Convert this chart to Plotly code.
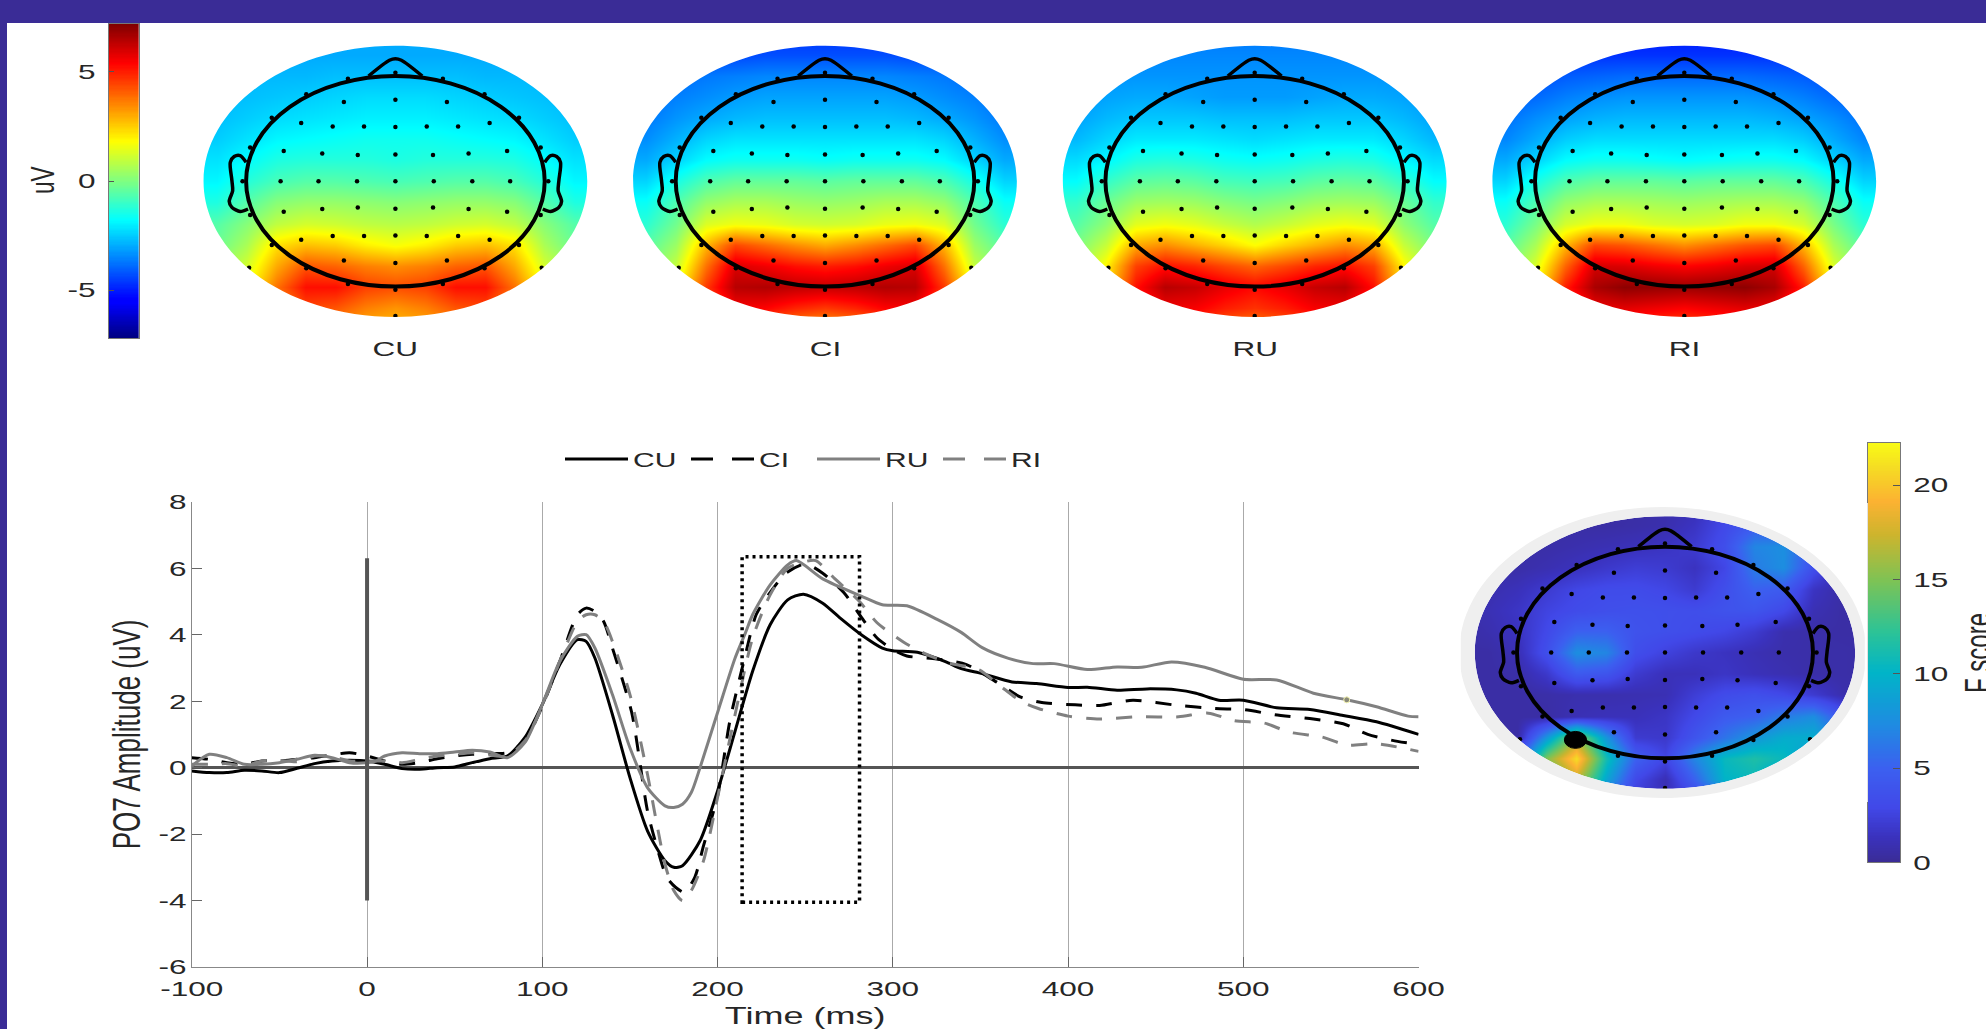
import numpy as np
import plotly.graph_objects as go

W, H = 1986, 1029

# ---------- ERP waveforms (time in ms, amplitude in uV) ----------
cu_t = [-100,-90,-80,-70,-60,-50,-40,-30,-20,-10,0,10,20,30,40,50,60,70,80,90,100,110,120,125,130,140,150,160,170,175,180,190,200,210,220,230,240,249,260,270,282,294,300,314,330,339,351,368,382,400,411,428,445,462,473,486,500,519,538,557,576,600]
cu_v = [-0.1,-0.15,-0.15,-0.08,-0.1,-0.15,-0.02,0.12,0.2,0.22,0.2,0.1,-0.03,-0.05,0,0.02,0.15,0.27,0.35,0.9,1.9,3.1,3.85,3.8,3.3,1.6,-0.3,-1.9,-2.8,-3.0,-2.95,-2.2,-0.7,1.1,2.9,4.3,5.05,5.22,4.95,4.5,4.0,3.6,3.52,3.47,3.19,2.98,2.83,2.58,2.53,2.41,2.42,2.33,2.37,2.34,2.24,2.03,2.03,1.8,1.75,1.57,1.38,1.0]

ci_t = [-100,-90,-80,-70,-60,-50,-40,-30,-20,-10,0,10,15,20,30,40,50,60,70,80,90,100,110,120,125,130,135,140,151,160,166,171,176,181,187,192,200,207,215,222,229,239,250,260,272,282,291,301,308,325,342,359,373,385,404,418,437,463,484,501,518,540,557,571,588,600]
ci_v = [0.3,0.25,0.15,0.1,0.2,0.2,0.25,0.3,0.38,0.45,0.35,0.2,0.15,0.1,0.15,0.27,0.35,0.4,0.42,0.45,0.8,1.85,3.2,4.6,4.8,4.7,4.4,3.6,1.66,-1.3,-2.5,-3.3,-3.6,-3.75,-3.3,-2.35,-0.85,1.4,3.2,4.6,5.2,5.85,6.13,5.85,5.27,4.53,3.9,3.52,3.36,3.27,3.1,2.58,2.12,1.96,1.89,1.87,2.03,1.87,1.78,1.74,1.59,1.46,1.32,1.0,0.79,0.7]

ru_t = [-100,-90,-80,-70,-60,-50,-40,-30,-20,-10,0,5,10,20,30,40,50,60,70,80,90,100,110,120,125,130,140,150,160,170,175,180,185,190,200,210,216,220,230,240,245,260,282,294,308,325,339,351,366,380,392,411,428,442,459,478,500,519,540,559,576,594,600]
ru_v = [0.05,0.4,0.3,0.1,0.1,0.15,0.25,0.37,0.3,0.15,0.15,0.2,0.35,0.45,0.42,0.42,0.47,0.52,0.47,0.3,0.75,1.9,3.2,3.95,4.0,3.6,2.2,0.6,-0.6,-1.15,-1.2,-1.1,-0.75,0.0,1.66,3.3,4.07,4.6,5.5,6.1,6.23,5.68,5.16,4.9,4.87,4.47,4.07,3.61,3.29,3.13,3.13,2.95,3.03,3.02,3.18,3.02,2.66,2.64,2.24,2.04,1.83,1.55,1.53]

ri_t = [-100,-90,-80,-70,-60,-50,-40,-30,-20,-10,0,10,20,30,40,50,60,70,80,90,100,110,120,125,130,135,140,150,160,165,170,175,180,185,192,200,210,220,230,240,250,256,267,281,291,306,318,332,349,361,373,383,400,418,440,463,480,495,512,526,545,559,576,600]
ri_v = [0.1,0.1,0.12,0.05,0.2,0.22,0.18,0.35,0.33,0.2,0.2,0.2,0.15,0.25,0.35,0.4,0.45,0.38,0.35,0.8,1.85,3.2,4.4,4.6,4.6,4.4,3.8,2.2,-0.2,-1.6,-2.9,-3.7,-4.0,-3.7,-2.8,-0.9,1.6,3.9,5.2,6.0,6.2,6.23,5.68,5.0,4.36,3.78,3.44,3.15,2.95,2.47,2.0,1.78,1.55,1.46,1.53,1.53,1.64,1.41,1.34,1.07,0.92,0.68,0.72,0.49]

x_ticks = [-100,0,100,200,300,400,500,600]
x_labels = ["-100","0","100","200","300","400","500","600"]
y_ticks = [-6,-4,-2,0,2,4,6,8]
y_labels = ["-6","-4","-2","0","2","4","6","8"]
window_ms = [214,281]
window_uv = [-4.05,6.35]
stim_uv = [-4,6.3]

# ---------- scalp maps: rows from +1.4 to -1.4, columns from -1.4 to +1.4 (head radius = 1) ----------
grid = [-1.4,-1.2,-1.0,-0.8,-0.6,-0.4,-0.2,0.0,0.2,0.4,0.6,0.8,1.0,1.2,1.4]
grid_rows = grid[::-1]

map_cu = [
[-3.0,-3.0,-3.0,-3.0,-3.0,-3.0,-3.0,-3.0,-3.0,-3.0,-3.0,-3.0,-3.0,-3.0,-3.0],
[-3.0,-3.0,-3.0,-3.0,-3.0,-3.0,-3.0,-3.0,-3.0,-3.0,-3.0,-3.0,-3.0,-3.0,-3.0],
[-2.9,-2.9,-2.8,-2.8,-2.8,-2.7,-2.7,-2.7,-2.7,-2.7,-2.8,-2.8,-2.8,-2.9,-2.9],
[-2.8,-2.8,-2.7,-2.6,-2.5,-2.4,-2.3,-2.3,-2.3,-2.4,-2.5,-2.6,-2.7,-2.8,-2.8],
[-2.7,-2.7,-2.5,-2.3,-2.2,-2.1,-2.0,-2.0,-2.0,-2.1,-2.2,-2.3,-2.5,-2.7,-2.7],
[-2.5,-2.5,-2.2,-1.9,-1.8,-1.7,-1.6,-1.6,-1.6,-1.7,-1.8,-1.9,-2.2,-2.5,-2.5],
[-2.2,-2.2,-1.8,-1.4,-1.3,-1.3,-1.3,-1.4,-1.3,-1.3,-1.3,-1.4,-1.8,-2.2,-2.2],
[-1.9,-1.9,-1.3,-0.8,-0.6,-0.6,-0.7,-0.8,-0.7,-0.6,-0.6,-0.8,-1.3,-1.9,-1.9],
[-1.4,-1.4,-0.6,0.1,0.3,0.3,0.2,0.1,0.2,0.3,0.3,0.1,-0.6,-1.4,-1.4],
[-0.6,-0.6,0.1,0.9,1.2,1.1,0.9,0.8,0.9,1.1,1.2,0.9,0.1,-0.6,-0.6],
[-0.3,-0.3,0.6,2.2,2.7,2.5,2.0,1.7,2.0,2.5,2.7,2.2,0.6,-0.3,-0.3],
[0.2,0.2,1.2,3.0,4.2,4.0,3.6,3.4,3.6,4.0,4.2,3.0,1.2,0.2,0.2],
[0.8,0.8,1.6,3.8,5.2,5.2,4.5,4.3,4.5,5.2,5.2,3.8,1.6,0.8,0.8],
[1.2,1.2,1.8,3.2,4.4,4.2,3.6,3.3,3.6,4.2,4.4,3.2,1.8,1.2,1.2],
[1.8,1.8,2.0,3.0,3.5,3.2,2.8,2.6,2.8,3.2,3.5,3.0,2.0,1.8,1.8],
]
map_ci = [
[-4.7,-4.7,-4.7,-4.7,-4.7,-4.7,-4.7,-4.7,-4.7,-4.7,-4.7,-4.7,-4.7,-4.7,-4.7],
[-4.4,-4.4,-4.4,-4.4,-4.4,-4.3,-4.3,-4.3,-4.3,-4.3,-4.4,-4.4,-4.4,-4.4,-4.4],
[-4.0,-4.0,-3.9,-3.7,-3.6,-3.5,-3.5,-3.5,-3.5,-3.5,-3.6,-3.7,-3.9,-4.0,-4.0],
[-3.9,-3.9,-3.6,-3.4,-3.2,-3.1,-3.1,-3.1,-3.1,-3.1,-3.2,-3.4,-3.6,-3.9,-3.9],
[-3.7,-3.7,-3.3,-3.0,-2.8,-2.7,-2.7,-2.7,-2.7,-2.7,-2.8,-3.0,-3.3,-3.7,-3.7],
[-3.4,-3.4,-2.9,-2.4,-2.2,-2.2,-2.2,-2.2,-2.2,-2.2,-2.2,-2.4,-2.9,-3.4,-3.4],
[-3.0,-3.0,-2.4,-1.8,-1.6,-1.6,-1.6,-1.7,-1.6,-1.6,-1.6,-1.8,-2.4,-3.0,-3.0],
[-2.4,-2.4,-1.5,-0.7,-0.4,-0.4,-0.4,-0.5,-0.4,-0.4,-0.4,-0.7,-1.5,-2.4,-2.4],
[-1.7,-1.7,-0.7,0.3,0.6,0.6,0.4,0.3,0.4,0.6,0.6,0.3,-0.7,-1.7,-1.7],
[-1.2,-1.2,-0.2,1.3,1.6,1.5,1.2,1.1,1.2,1.5,1.6,1.3,-0.2,-1.2,-1.2],
[-0.8,-0.6,0.4,2.8,4.4,3.9,3.4,3.0,3.4,3.9,4.4,2.8,0.4,-0.6,-0.8],
[-0.2,-0.2,1.0,3.8,5.9,5.6,5.2,5.0,5.2,5.6,5.9,3.8,1.0,-0.2,-0.2],
[0.6,0.6,1.6,4.6,6.4,6.5,6.3,6.2,6.3,6.5,6.4,4.6,1.6,0.6,0.6],
[1.5,1.5,2.0,4.0,5.5,5.4,4.9,4.6,4.9,5.4,5.5,4.0,2.0,1.5,1.5],
[2.0,2.0,2.4,3.5,4.0,3.6,3.2,2.8,3.2,3.6,4.0,3.5,2.4,2.0,2.0],
]
map_ru = [
[-3.7,-3.7,-3.7,-3.7,-3.7,-3.7,-3.7,-3.7,-3.7,-3.7,-3.7,-3.7,-3.7,-3.7,-3.7],
[-3.5,-3.5,-3.5,-3.5,-3.5,-3.5,-3.5,-3.5,-3.5,-3.5,-3.5,-3.5,-3.5,-3.5,-3.5],
[-3.4,-3.4,-3.3,-3.3,-3.3,-3.3,-3.3,-3.3,-3.3,-3.3,-3.3,-3.3,-3.3,-3.4,-3.4],
[-3.3,-3.3,-3.1,-3.0,-3.0,-3.1,-3.2,-3.2,-3.2,-3.1,-3.0,-3.0,-3.1,-3.3,-3.3],
[-3.1,-3.1,-2.8,-2.6,-2.6,-2.6,-2.7,-2.7,-2.7,-2.6,-2.6,-2.6,-2.8,-3.1,-3.1],
[-2.8,-2.8,-2.4,-2.1,-2.1,-2.1,-2.2,-2.3,-2.2,-2.1,-2.1,-2.1,-2.4,-2.8,-2.8],
[-2.3,-2.3,-1.9,-1.4,-1.3,-1.4,-1.6,-1.7,-1.6,-1.4,-1.3,-1.4,-1.9,-2.3,-2.3],
[-1.8,-1.8,-1.1,-0.5,-0.4,-0.5,-0.8,-0.9,-0.8,-0.5,-0.4,-0.5,-1.1,-1.8,-1.8],
[-1.1,-1.1,-0.3,0.4,0.5,0.4,0.1,-0.1,0.1,0.4,0.5,0.4,-0.3,-1.1,-1.1],
[-0.6,-0.6,0.2,1.4,1.6,1.4,1.0,0.7,1.0,1.4,1.6,1.4,0.2,-0.6,-0.6],
[-0.4,-0.1,1.0,3.0,3.4,2.9,2.4,1.8,2.4,2.9,3.4,3.0,1.0,-0.1,-0.4],
[0.2,0.3,1.9,4.5,5.2,4.9,4.4,4.0,4.4,4.9,5.2,4.5,1.9,0.3,0.2],
[0.8,0.8,2.2,5.2,6.4,6.2,5.7,5.3,5.7,6.2,6.4,5.2,2.2,0.8,0.8],
[1.5,1.5,2.5,4.6,5.6,5.5,5.0,4.7,5.0,5.5,5.6,4.6,2.5,1.5,1.5],
[2.0,2.0,2.8,4.0,4.6,4.4,3.8,3.3,3.8,4.4,4.6,4.0,2.8,2.0,2.0],
]
map_ri = [
[-5.1,-5.1,-5.1,-5.1,-5.1,-5.1,-5.1,-5.1,-5.1,-5.1,-5.1,-5.1,-5.1,-5.1,-5.1],
[-4.7,-4.7,-4.7,-4.7,-4.7,-4.7,-4.7,-4.7,-4.7,-4.7,-4.7,-4.7,-4.7,-4.7,-4.7],
[-4.4,-4.4,-4.3,-4.1,-4.0,-3.9,-3.9,-3.9,-3.9,-3.9,-4.0,-4.1,-4.3,-4.4,-4.4],
[-4.1,-4.1,-3.9,-3.6,-3.4,-3.3,-3.3,-3.3,-3.3,-3.3,-3.4,-3.6,-3.9,-4.1,-4.1],
[-3.8,-3.8,-3.4,-3.1,-2.9,-2.8,-2.8,-2.8,-2.8,-2.8,-2.9,-3.1,-3.4,-3.8,-3.8],
[-3.5,-3.5,-3.0,-2.5,-2.3,-2.3,-2.3,-2.3,-2.3,-2.3,-2.3,-2.5,-3.0,-3.5,-3.5],
[-3.0,-3.0,-2.4,-1.8,-1.6,-1.6,-1.7,-1.8,-1.7,-1.6,-1.6,-1.8,-2.4,-3.0,-3.0],
[-2.4,-2.4,-1.5,-0.7,-0.4,-0.4,-0.4,-0.5,-0.4,-0.4,-0.4,-0.7,-1.5,-2.4,-2.4],
[-1.7,-1.7,-0.7,0.3,0.6,0.6,0.5,0.4,0.5,0.6,0.6,0.3,-0.7,-1.7,-1.7],
[-1.2,-1.2,-0.1,1.2,1.6,1.6,1.3,1.2,1.3,1.6,1.6,1.2,-0.1,-1.2,-1.2],
[-0.8,-0.6,0.6,2.8,4.4,4.2,3.8,3.4,3.8,4.2,4.4,2.8,0.6,-0.6,-0.8],
[-0.2,-0.2,1.3,4.0,6.0,5.9,5.6,5.4,5.6,5.9,6.0,4.0,1.3,-0.2,-0.2],
[0.6,0.6,1.8,5.0,6.6,7.0,6.9,6.8,6.9,7.0,6.6,5.0,1.8,0.6,0.6],
[1.5,1.5,2.2,4.2,5.6,5.8,5.6,5.4,5.6,5.8,5.6,4.2,2.2,1.5,1.5],
[2.0,2.0,2.6,3.8,4.4,4.6,4.4,4.1,4.4,4.6,4.4,3.8,2.6,2.0,2.0],
]
map_f = [
[0.5,0.5,0.5,0.5,0.5,0.5,0.5,0.7,1.0,2.5,3.5,3.0,1.5,0.5,0.5],
[0.5,0.5,0.5,0.5,0.5,0.5,0.6,0.8,1.5,3.0,4.5,4.0,2.0,0.5,0.5],
[0.5,0.5,0.5,0.6,0.8,1.0,1.2,1.5,2.0,3.5,7.0,7.5,4.5,0.8,0.5],
[0.5,0.5,0.6,0.9,1.3,1.8,2.2,2.0,1.4,2.8,6.5,7.5,3.5,0.8,0.5],
[0.6,0.8,1.2,2.0,2.8,3.2,3.2,2.8,2.0,3.5,5.0,4.5,1.5,0.5,0.5],
[0.6,1.0,1.6,2.6,3.2,3.5,3.6,3.5,3.4,3.8,4.0,3.0,1.0,0.5,0.5],
[0.5,0.8,1.4,3.0,5.0,5.0,3.8,3.5,3.2,2.8,2.0,0.8,0.6,0.5,0.5],
[0.5,0.5,1.0,3.5,7.5,7.0,3.4,2.5,1.8,1.4,1.0,0.7,0.6,0.6,0.5],
[0.5,0.5,0.6,1.8,4.5,4.0,2.0,1.2,1.2,1.6,1.2,0.9,0.6,0.6,0.5],
[0.5,0.5,0.5,0.6,0.8,0.8,0.9,1.0,2.2,3.2,3.6,3.0,2.0,0.8,0.5],
[0.5,0.5,0.5,0.5,1.0,1.2,1.2,1.6,3.0,4.5,5.0,6.5,7.5,4.0,0.5],
[0.5,0.5,0.5,8.0,16.0,8.0,2.0,1.8,4.0,6.0,8.0,9.5,9.5,7.0,1.0],
[0.5,0.5,4.0,15.0,21.0,11.0,5.0,2.8,7.0,10.5,11.5,10.5,8.0,3.0,1.0],
[0.5,0.5,2.0,12.0,17.0,9.0,3.0,1.0,5.0,10.0,10.5,8.0,5.0,2.0,1.0],
[0.5,0.5,1.0,6.0,10.0,4.0,2.0,1.0,2.0,4.0,5.0,4.0,2.0,1.0,0.5],
]

# ---------- electrode layout (head radius = 1) ----------
electrode_x = [0,-.318,.318,-.597,.597,0,-.345,.345,-.828,.828,-.631,.631,-.42,-.21,0,.21,.42,
               -.973,.973,-.748,.748,-.49,.49,-.252,.252,0,
               -1.024,1.024,-.769,.769,-.515,.515,-.257,.257,0,
               0,-.252,.252,-.49,.49,-.748,.748,-.973,.973,
               0,-.21,.21,-.42,.42,-.631,.631,-.828,.828,
               -.345,.345,0,-.597,.597,-.98,.98,-.318,.318,0,0]
electrode_y = [1.03,.975,.975,.826,.826,.775,.753,.753,.604,.604,.554,.554,.52,.52,.515,.52,.52,
               .32,.32,.288,.288,.263,.263,.25,.25,.255,
               0,0,0,0,0,0,0,0,0,
               -.26,-.25,-.25,-.263,-.263,-.288,-.288,-.32,-.32,
               -.515,-.52,-.52,-.52,-.52,-.554,-.554,-.604,-.604,
               -.753,-.753,-.775,-.826,-.826,-.82,-.82,-.975,-.975,-1.03,-1.28]
nose_x = [-.18,-.04,0,.04,.18]
nose_y = [1.0,1.15,1.165,1.15,1.0]
ear_x = [-1.0,-1.04,-1.08,-1.106,-1.095,-1.09,-1.113,-1.095,-1.04,-.987]
ear_y = [.18,.244,.235,.18,.006,-.09,-.19,-.248,-.286,-.263]
sensor_x, sensor_y = -.605, -.826

# ---------- colour scales and labels ----------
jet = [[0,"#000080"],[.11,"#0000ff"],[.125,"#0000ff"],[.375,"#00ffff"],[.625,"#ffff00"],[.875,"#ff0000"],[1,"#800000"]]
parula = [[0,"rgb(58,44,150)"],[.06,"rgb(58,50,190)"],[.13,"rgb(65,72,232)"],[.22,"rgb(60,95,240)"],
          [.33,"rgb(30,140,225)"],[.45,"rgb(0,180,200)"],[.55,"rgb(45,195,150)"],[.67,"rgb(125,195,85)"],
          [.78,"rgb(205,180,45)"],[.86,"rgb(252,178,50)"],[.94,"rgb(245,220,35)"],[1,"rgb(249,251,21)"]]
uv_lim = 7.2
f_max = 22.25
conditions = ["CU","CI","RU","RI"]
uv_ticks = [-5,0,5]
uv_labels = ["-5","0","5"]
f_ticks = [0,5,10,15,20]

TXT = "#262626"
FONT = "Liberation Sans"
BANNER = "#3a2c96"

fig = go.Figure()

def xdom(a, b): return [a / W, b / W]
def ydom(top, bot): return [1 - bot / H, 1 - top / H]

def ellipse(rx, ry, x0=0.0):
    k = 0.5523
    return (f"M {x0-rx} 0 C {x0-rx} {k*ry} {x0-k*rx} {ry} {x0} {ry} C {x0+k*rx} {ry} {x0+rx} {k*ry} {x0+rx} 0 "
            f"C {x0+rx} {-k*ry} {x0+k*rx} {-ry} {x0} {-ry} C {x0-k*rx} {-ry} {x0-rx} {-k*ry} {x0-rx} 0 Z")

shapes, annotations = [], []

# a page-sized, invisible pair of axes used to place the free-standing labels
fig.add_trace(go.Scatter(x=[0], y=[0], mode="none", showlegend=False, xaxis="x9", yaxis="y9", hoverinfo="skip"))
fig.update_layout(
    xaxis9=dict(domain=[0, 1], range=[0, W], visible=False, anchor="y9"),
    yaxis9=dict(domain=[0, 1], range=[H, 0], visible=False, anchor="x9"),
)

def page_label(text, px, py, size, angle=0):
    annotations.append(dict(text=text, x=px, y=py, xref="x9", yref="y9", showarrow=False, textangle=angle,
                            font=dict(size=size, color=TXT, family=FONT)))

# ---------- waveform panel ----------
for name, t, v, col, dash in [("CU", cu_t, cu_v, "#000000", "solid"), ("CI", ci_t, ci_v, "#000000", "16px,14px"),
                              ("RU", ru_t, ru_v, "#808080", "solid"), ("RI", ri_t, ri_v, "#808080", "16px,14px")]:
    fig.add_trace(go.Scatter(x=t, y=v, name=name, mode="lines", showlegend=False,
                             line=dict(color=col, width=3, dash=dash, shape="spline", smoothing=0.7)))
# legend keys: the reference's dashed keys have longer dashes than its dashed curves
for name, col, dash in [("CU", "#000000", "solid"), ("CI", "#000000", "22px,19px"),
                        ("RU", "#808080", "solid"), ("RI", "#808080", "22px,19px")]:
    fig.add_trace(go.Scatter(x=[None], y=[None], name=name, mode="lines", line=dict(color=col, width=3, dash=dash)))
fig.add_trace(go.Scatter(x=[ru_t[59]], y=[ru_v[59]], mode="markers", showlegend=False,
                         marker=dict(size=6, color="#8a8a7a", line=dict(color="#f4f4b0", width=1))))
fig.update_layout(
    xaxis=dict(domain=xdom(191.8, 1418.6), range=[-100, 600], tickvals=x_ticks, ticktext=x_labels, ticks="inside",
               ticklen=10, tickcolor="#666", showgrid=True, gridcolor="#aaaaaa", gridwidth=1, showline=True,
               linecolor="#888", zeroline=False, tickfont=dict(size=21, color=TXT, family=FONT), anchor="y",
               ticklabelstandoff=3,
               title=dict(text="Time (ms)", font=dict(size=24, color=TXT, family=FONT), standoff=14)),
    yaxis=dict(domain=ydom(501.8, 967), range=[-6, 8], tickvals=y_ticks, ticktext=y_labels, ticks="inside", ticklen=10,
               tickcolor="#666", showgrid=False, showline=True, linecolor="#888", zeroline=True, zerolinecolor="#555",
               zerolinewidth=3, tickfont=dict(size=21, color=TXT, family=FONT), anchor="x",
               title=dict(text="PO7 Amplitude (uV)", font=dict(size=39, color=TXT, family=FONT), standoff=15)),
)
shapes.append(dict(type="line", xref="x", yref="y", x0=0, x1=0, y0=stim_uv[0], y1=stim_uv[1],
                   line=dict(color="#555", width=4)))
shapes.append(dict(type="rect", xref="x", yref="y", x0=window_ms[0], x1=window_ms[1], y0=window_uv[0], y1=window_uv[1],
                   line=dict(color="#000", width=3.5, dash="3px,4px")))

# ---------- scalp maps ----------
def add_map(idx, z, cx, cy, rx, ry, cmin, cmax, cscale, ring=None, xleft=-1.4, xright=1.4):
    xa, ya = f"x{idx}", f"y{idx}"
    fig.add_trace(go.Heatmap(x=grid, y=grid_rows, z=z, zmin=cmin, zmax=cmax, colorscale=cscale, zsmooth="best",
                             showscale=False, xaxis=xa, yaxis=ya, hoverinfo="skip"))
    for ex, ey in [(nose_x, nose_y), (ear_x, ear_y), ([-v for v in ear_x], ear_y)]:
        fig.add_trace(go.Scatter(x=ex, y=ey, mode="lines", showlegend=False, xaxis=xa, yaxis=ya, hoverinfo="skip",
                                 line=dict(color="#000", width=3.5, shape="spline", smoothing=0.8)))
    fig.add_trace(go.Scatter(x=electrode_x, y=electrode_y, mode="markers", showlegend=False, xaxis=xa, yaxis=ya,
                             hoverinfo="skip", marker=dict(size=4.5, color="#000")))
    x0, x1 = cx + xleft * rx, cx + xright * rx
    y0, y1 = cy - 1.4 * ry, cy + 1.4 * ry
    fig.update_layout(**{
        f"xaxis{idx}": dict(domain=xdom(x0, x1), range=[xleft, xright], visible=False, anchor=ya),
        f"yaxis{idx}": dict(domain=ydom(y0, y1), range=[-1.4, 1.4], visible=False, anchor=xa),
    })
    rect = f"M {xleft} -1.4 L {xright} -1.4 L {xright} 1.4 L {xleft} 1.4 Z "
    hole = ellipse(1.285, 1.288)
    shapes.append(dict(type="path", xref=xa, yref=ya, path=rect + hole, fillcolor="#ffffff", fillrule="evenodd",
                       line=dict(width=0)))
    if ring:
        shapes.append(dict(type="path", xref=xa, yref=ya, path=ellipse(*ring) + " " + hole, fillcolor="#efefef",
                           fillrule="evenodd", line=dict(width=0)))
    # hides the anti-aliased sliver of the map at the panel's edge
    shapes.append(dict(type="rect", xref="paper", yref="paper", x0=x0 / W, x1=x1 / W, y0=1 - y1 / H, y1=1 - y0 / H,
                       line=dict(color="#fff", width=3)))
    shapes.append(dict(type="circle", xref=xa, yref=ya, x0=-1, x1=1, y0=-1, y1=1, line=dict(color="#000", width=4)))

centers = [395.4, 825.0, 1254.7, 1684.3]
for i, (z, cx, name) in enumerate(zip([map_cu, map_ci, map_ru, map_ri], centers, conditions)):
    add_map(i + 2, z, cx, 181.3, 149.3, 105.3, -uv_lim, uv_lim, jet)
    page_label(name, cx, 348, 21)
add_map(6, map_f, 1665, 652.5, 148, 105.8, 0, f_max, parula, ring=(1.375, 1.375, -0.015), xleft=-1.39, xright=1.36)
shapes.append(dict(type="circle", xref="x6", yref="y6", x0=sensor_x - .075, x1=sensor_x + .075,
                   y0=sensor_y - .08, y1=sensor_y + .08, fillcolor="#000", line=dict(color="#000", width=1)))

# ---------- colour bars ----------
uv_levels = np.linspace(-uv_lim, uv_lim, 256)
fig.add_trace(go.Heatmap(x=[0], y=uv_levels, z=[[v] for v in uv_levels], zmin=-uv_lim, zmax=uv_lim, colorscale=jet,
                         showscale=False, xaxis="x7", yaxis="y7", hoverinfo="skip"))
f_levels = np.linspace(0, f_max, 256)
fig.add_trace(go.Heatmap(x=[0], y=f_levels, z=[[v] for v in f_levels], zmin=0, zmax=f_max, colorscale=parula,
                         showscale=False, xaxis="x8", yaxis="y8", hoverinfo="skip"))
bar_axis = dict(showline=True, linecolor="#777", mirror=True, showgrid=False, zeroline=False)
fig.update_layout(
    xaxis7=dict(domain=xdom(108.7, 139), range=[-.5, .5], showticklabels=False, ticks="", anchor="y7", **bar_axis),
    yaxis7=dict(domain=ydom(24, 338), range=[-uv_lim, uv_lim], tickvals=uv_ticks, ticktext=uv_labels, ticks="inside",
                ticklen=5, tickcolor="#555", side="left", anchor="x7", ticklabelstandoff=8,
                tickfont=dict(size=21, color=TXT, family=FONT), **bar_axis),
    xaxis8=dict(domain=xdom(1868, 1900), range=[-.5, .5], showticklabels=False, ticks="", anchor="y8", **bar_axis),
    yaxis8=dict(domain=ydom(442.6, 862.4), range=[0, f_max], tickvals=f_ticks, ticks="inside", ticklen=7,
                tickcolor="#555", side="right", anchor="x8", ticklabelstandoff=8,
                tickfont=dict(size=21, color=TXT, family=FONT), **bar_axis),
)
page_label("uV", 42, 180, 34, -90)
page_label("F score", 1978, 653, 36, -90)

# ---------- page frame ----------
shapes.append(dict(type="rect", xref="paper", yref="paper", x0=0, x1=1, y0=1 - 23 / H, y1=1, fillcolor=BANNER,
                   line=dict(width=0), layer="below"))
shapes.append(dict(type="rect", xref="paper", yref="paper", x0=0, x1=7 / W, y0=0, y1=1, fillcolor=BANNER,
                   line=dict(width=0), layer="below"))

fig.update_layout(width=W, height=H, autosize=False, margin=dict(l=0, r=0, t=0, b=0, pad=0, autoexpand=False),
                  paper_bgcolor="#fff",
                  plot_bgcolor="rgba(0,0,0,0)", shapes=shapes, annotations=annotations, hovermode=False,
                  legend=dict(orientation="h", x=560 / W, y=1 - 459 / H, xanchor="left", yanchor="middle",
                              itemwidth=63, entrywidth=48, entrywidthmode="pixels", traceorder="normal",
                              bgcolor="rgba(0,0,0,0)", font=dict(size=20, color=TXT, family=FONT)))

# The source figure is stretched sideways: widen upright text, narrow rotated text along its run.
post = """
document.body.style.margin='0';document.body.style.overflow='hidden';
(function(){var gd=document.getElementById('{plot_id}');
function isRot(el){while(el&&el!==gd){var a=el.getAttribute&&el.getAttribute('transform');
  if(a){var m=a.match(/rotate\\((-?[\\d.]+)/);if(m&&parseFloat(m[1])!==0)return true;}
  el=el.parentNode;}return false;}
function fix(){gd.querySelectorAll('text').forEach(function(t){
 if(t.getAttribute('data-s')||!t.textContent)return;
 var n=t.getComputedTextLength();if(!n)return;
 t.setAttribute('lengthAdjust','spacingAndGlyphs');t.setAttribute('textLength',n*(isRot(t)?1/1.5:1.5));
 t.setAttribute('data-s','1');});}
fix();setTimeout(fix,50);setTimeout(fix,300);})();
"""
fig.write_html("out.html", post_script=post, config={"displayModeBar": False})
